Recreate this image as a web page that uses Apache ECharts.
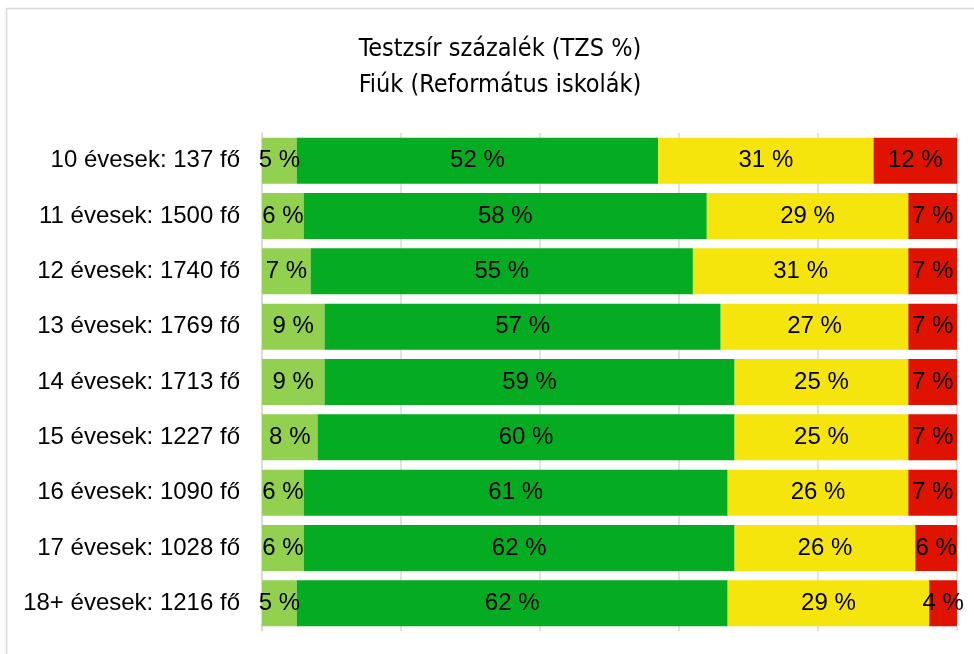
<!DOCTYPE html>
<html>
<head>
<meta charset="utf-8">
<script src="https://cdn.jsdelivr.net/npm/echarts@6/dist/echarts.min.js"></script>
<style>
  html, body { margin: 0; padding: 0; background: #fff; }
  #chart { width: 974px; height: 654px; }
</style>
</head>
<body>
<div id="chart"></div>
<script>
const categories = [
  '10 évesek: 137 fő',
  '11 évesek: 1500 fő',
  '12 évesek: 1740 fő',
  '13 évesek: 1769 fő',
  '14 évesek: 1713 fő',
  '15 évesek: 1227 fő',
  '16 évesek: 1090 fő',
  '17 évesek: 1028 fő',
  '18+ évesek: 1216 fő',
]
const lightGreen = [5, 6, 7, 9, 9, 8, 6, 6, 5]
const green = [52, 58, 55, 57, 59, 60, 61, 62, 62]
const yellow = [31, 29, 31, 27, 25, 25, 26, 26, 29]
const red = [12, 7, 7, 7, 7, 7, 7, 6, 4]

const colors = ['#92D050', '#05AC22', '#F5E50C', '#E01300']
const font = '"Liberation Sans", Arial, sans-serif'

function barSeries(name, data, color) {
  return {
    name,
    type: 'bar',
    stack: 'total',
    data,
    barCategoryGap: '17%',
    itemStyle: { color },
    label: {
      show: true,
      position: 'inside',
      formatter: '{c} %',
      color: '#000',
      fontFamily: font,
      fontSize: 24,
    },
  }
}

const chart = echarts.init(document.getElementById('chart'))
chart.setOption({
  animation: false,
  graphic: [
    {
      type: 'rect',
      shape: { x: 6.5, y: 8.5, width: 990, height: 680 },
      style: { fill: 'none', stroke: '#d9d9d9', lineWidth: 1.5 },
      silent: true,
    },
  ],
  title: {
    text: 'Testzsír százalék (TZS %)\nFiúk (Református iskolák)',
    left: 495,
    top: 26,
    textAlign: 'center',
    textStyle: {
      fontFamily: '"Liberation Sans Narrow", "DejaVu Sans Condensed", sans-serif',
      fontWeight: 'normal',
      fontSize: 25,
      lineHeight: 36,
      color: '#000',
    },
  },
  grid: { left: 262, right: 17, top: 133, bottom: 23 },
  xAxis: {
    type: 'value',
    min: 0,
    max: 100,
    interval: 20,
    axisLabel: { show: false },
    axisLine: { show: false },
    axisTick: { show: false },
    splitLine: { lineStyle: { color: '#d9d9d9', width: 1.5 } },
  },
  yAxis: {
    type: 'category',
    inverse: true,
    data: categories,
    axisLine: { show: true, lineStyle: { color: '#d9d9d9', width: 1.5 } },
    axisTick: { show: false },
    axisLabel: { color: '#000', fontFamily: font, fontSize: 24, margin: 22 },
  },
  series: [
    barSeries('lightGreen', lightGreen, colors[0]),
    barSeries('green', green, colors[1]),
    barSeries('yellow', yellow, colors[2]),
    barSeries('red', red, colors[3]),
  ],
})
</script>
</body>
</html>
